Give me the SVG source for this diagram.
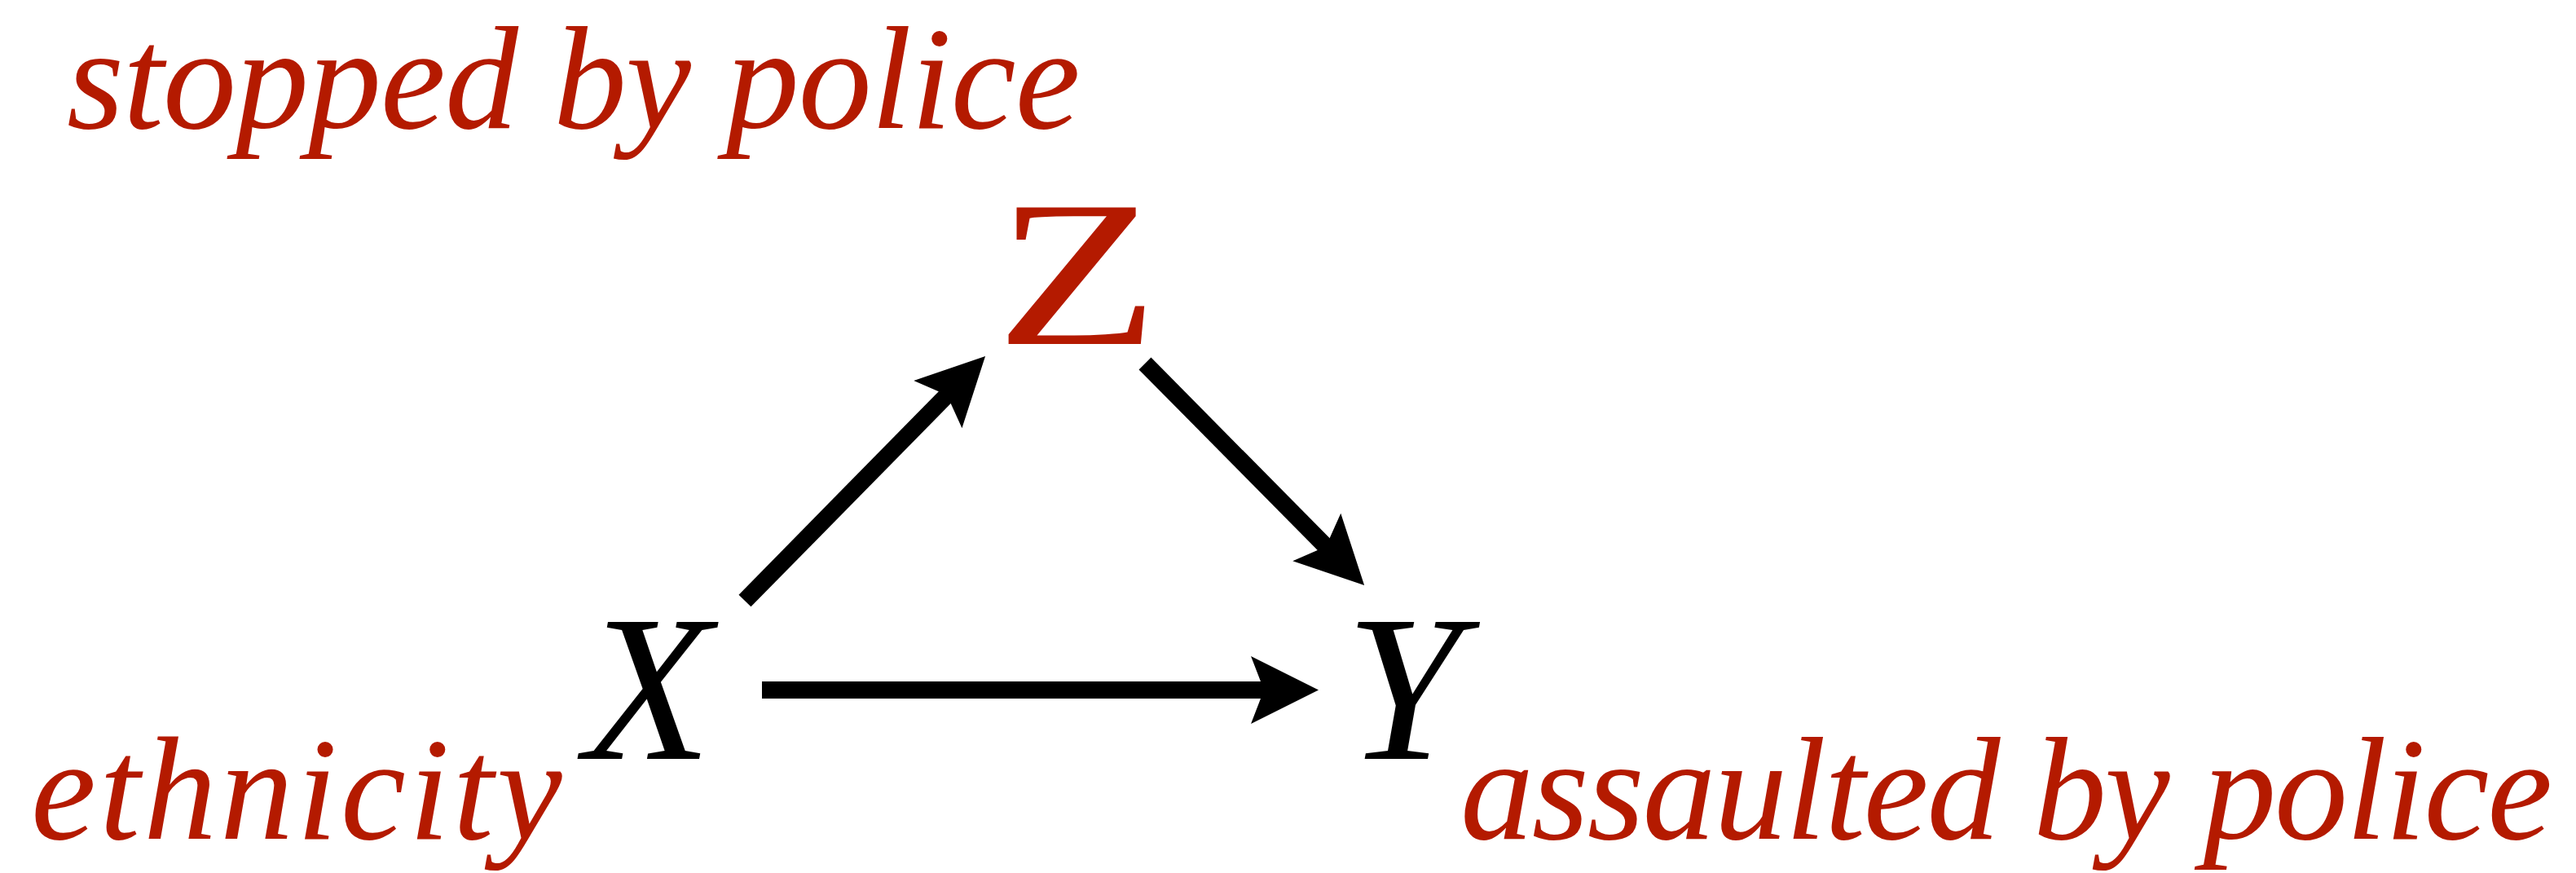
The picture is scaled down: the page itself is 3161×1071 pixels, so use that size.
<svg xmlns="http://www.w3.org/2000/svg" width="3161" height="1071" viewBox="0 0 3161 1071">
  <style>
    .var { font-family: "Liberation Serif", "Times New Roman", serif; font-size: 256px; }
    .it { font-style: italic; }
    .lbl { font-family: "Liberation Serif", "Times New Roman", serif; font-style: italic; font-size: 180px; fill: #b41a00; }
    .edge { stroke: #000; stroke-width: 21; fill: none; stroke-linecap: butt; }
  </style>
  <defs>
    <marker id="head" markerUnits="userSpaceOnUse" viewBox="-60 -60 120 120" markerWidth="120" markerHeight="120" refX="0" refY="0" orient="auto" overflow="visible">
      <path d="M40,0 L-43,-41.5 L-27,0 L-43,41.5 Z" fill="#000"/>
    </marker>
  </defs>
  <rect width="3161" height="1071" fill="#fff"/>
  <g id="connectors">
    <line class="edge" x1="935" y1="846.5" x2="1578" y2="846.5" marker-end="url(#head)"/>
    <line class="edge" x1="914" y1="737" x2="1181" y2="465.5" marker-end="url(#head)"/>
    <line class="edge" x1="1405" y1="446" x2="1646" y2="689.6" marker-end="url(#head)"/>
  </g>
  <g id="node-Z">
    <text class="var" transform="translate(1322,422) scale(1.28,1)" x="0" y="0" text-anchor="middle" font-size="262" fill="#b41a00">Z</text>
    <text class="lbl" x="82" y="157" font-size="176" letter-spacing="-1">stopped by police</text>
  </g>
  <g id="node-X">
    <text class="var it" x="717" y="931" fill="#000">X</text>
    <text class="lbl" x="38" y="1029" letter-spacing="4">ethnicity</text>
  </g>
  <g id="node-Y">
    <text class="var it" x="1651" y="931" fill="#000">Y</text>
    <text class="lbl" x="1792" y="1029" letter-spacing="-2.2">assaulted by police</text>
  </g>
</svg>
